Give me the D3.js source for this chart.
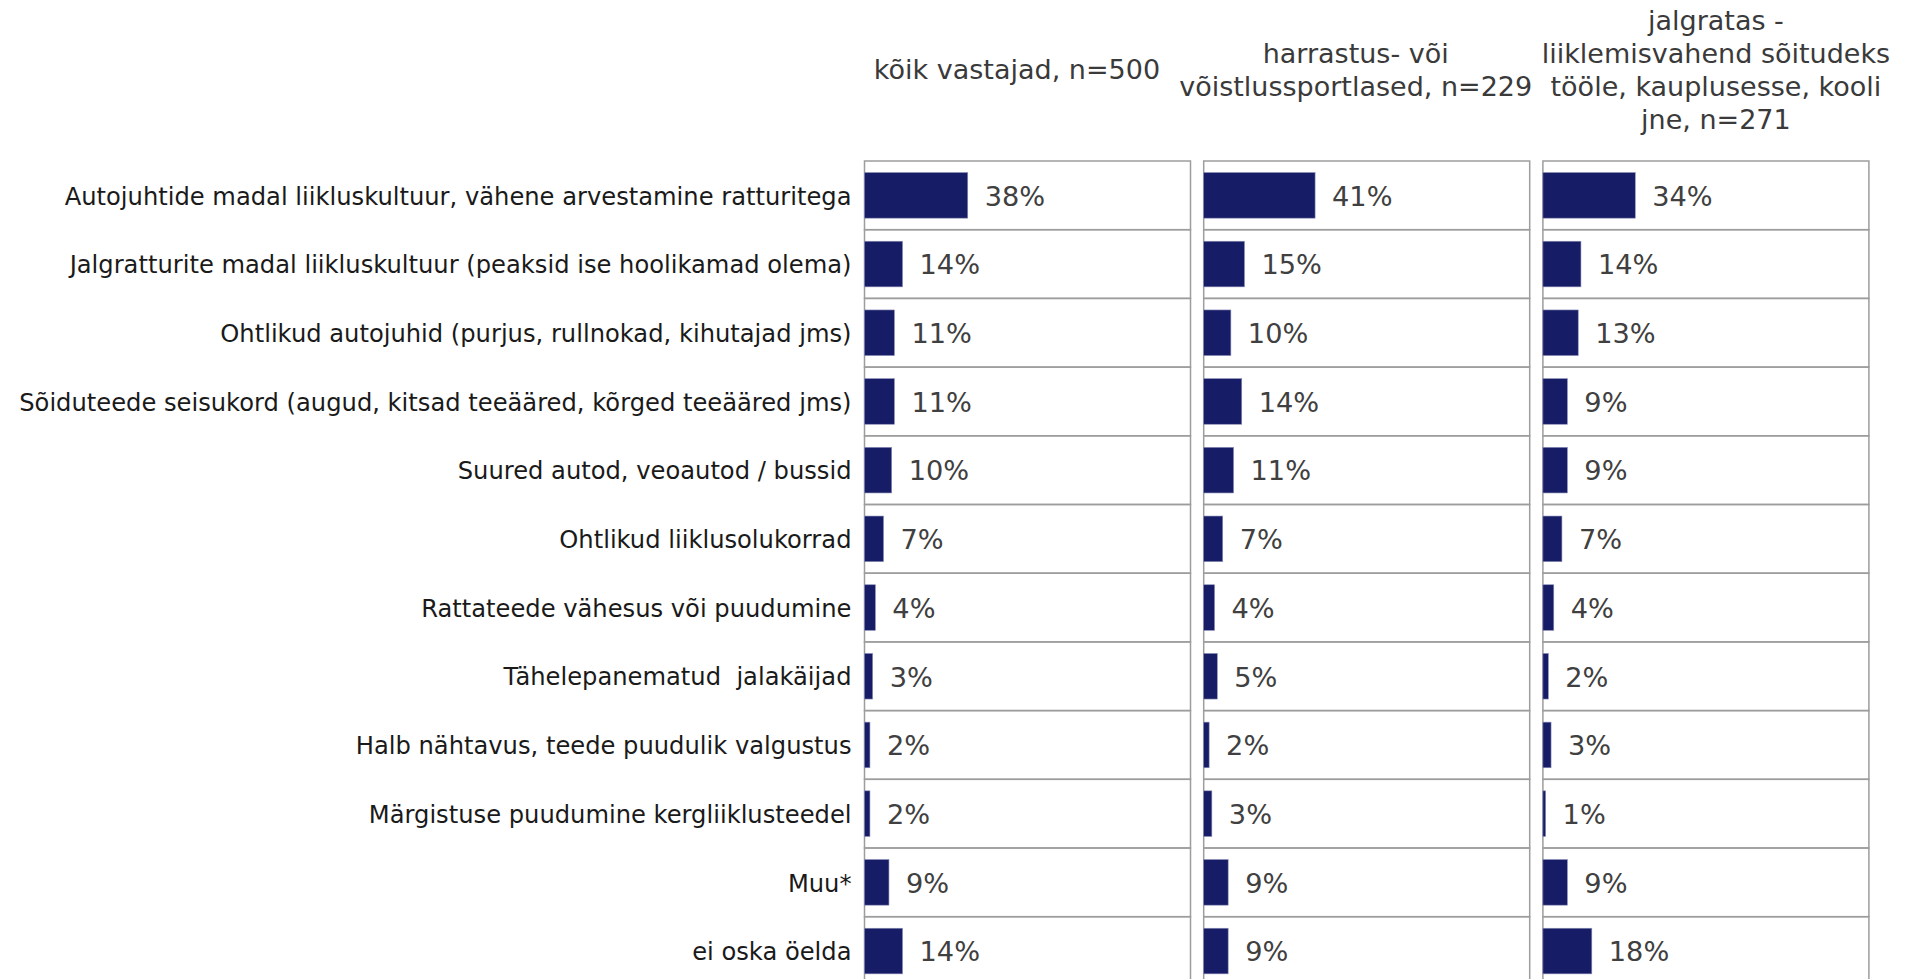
<!DOCTYPE html>
<html>
<head>
<meta charset="utf-8">
<script src="https://cdn.jsdelivr.net/npm/d3@7"></script>
<style>
  html, body { margin: 0; padding: 0; background: #fff; }
  svg { display: block; }
  text { font-family: "DejaVu Sans", Verdana, sans-serif; }
</style>
</head>
<body>
<svg id="chart" width="1908" height="979"></svg>
<script>
// Survey: main traffic hazards named by cyclists, share of respondents per group
const categories = [
  "Autojuhtide madal liikluskultuur, vähene arvestamine ratturitega",
  "Jalgratturite madal liikluskultuur (peaksid ise hoolikamad olema)",
  "Ohtlikud autojuhid (purjus, rullnokad, kihutajad jms)",
  "Sõiduteede seisukord (augud, kitsad teeääred, kõrged teeääred jms)",
  "Suured autod, veoautod / bussid",
  "Ohtlikud liiklusolukorrad",
  "Rattateede vähesus või puudumine",
  "Tähelepanematud  jalakäijad",
  "Halb nähtavus, teede puudulik valgustus",
  "Märgistuse puudumine kergliiklusteedel",
  "Muu*",
  "ei oska öelda"
];

const groups = [
  ["kõik vastajad, n=500"],
  ["harrastus- või", "võistlussportlased, n=229"],
  ["jalgratas -", "liiklemisvahend sõitudeks", "tööle, kauplusesse, kooli", "jne, n=271"]
];

const allRespondents = [38, 14, 11, 11, 10, 7, 4, 3, 2, 2, 9, 14];
const sportRiders    = [41, 15, 10, 14, 11, 7, 4, 5, 2, 3, 9, 9];
const commuters      = [34, 14, 13, 9, 9, 7, 4, 2, 3, 1, 9, 18];

const seriesValues = [allRespondents, sportRiders, commuters];

// ---- layout ----
const svg = d3.select("#chart");
const gridTop = 161, rowStep = 68.7, barH = 45.6;
const panelW = 326, panelStep = 339.2, firstPanel = 864.5;
const headerShift = [-10.5, -11, 10];

const row = d3.scaleBand()
  .domain(categories)
  .range([gridTop, gridTop + rowStep * categories.length])
  .padding(0);

const nPanels = seriesValues.length;
const panel = d3.scaleBand()
  .domain(d3.range(nPanels))
  .range([firstPanel, firstPanel + panelStep * (nPanels - 1) + panelW])
  .paddingInner((panelStep - panelW) / panelStep)
  .paddingOuter(0);

const x = d3.scaleLinear().domain([0, 120]).range([0, panel.bandwidth()]);

// category labels
svg.append("g")
  .selectAll("text")
  .data(categories)
  .join("text")
  .attr("x", firstPanel - 13)
  .attr("y", d => row(d) + row.bandwidth() / 2)
  .attr("dy", "0.38em")
  .attr("text-anchor", "end")
  .attr("font-size", 24.2)
  .attr("fill", "#1a1a1a")
  .style("white-space", "pre")
  .text(d => d);

// panels
seriesValues.forEach((vals, i) => {
  const left = panel(i);
  const w = panel.bandwidth();
  const g = svg.append("g").attr("transform", `translate(${left},0)`);

  // header
  const lines = groups[i];
  const lh = 32.9, cy = 70;
  g.append("text")
    .attr("text-anchor", "middle")
    .attr("font-size", 27)
    .attr("fill", "#3a3a3a")
    .selectAll("tspan")
    .data(lines)
    .join("tspan")
    .attr("x", w / 2 + headerShift[i])
    .attr("y", (d, k) => cy + (k - (lines.length - 1) / 2) * lh)
    .attr("dy", "0.35em")
    .text(d => d);

  // row frames
  g.selectAll("rect.cell")
    .data(categories)
    .join("rect")
    .attr("class", "cell")
    .attr("x", 0)
    .attr("y", d => row(d))
    .attr("width", w)
    .attr("height", row.bandwidth())
    .attr("fill", "none")
    .attr("stroke", "#9d9d9d")
    .attr("stroke-width", 1.5);

  // bars
  g.selectAll("rect.bar")
    .data(vals)
    .join("rect")
    .attr("class", "bar")
    .attr("x", x(0))
    .attr("y", (d, k) => row(categories[k]) + (row.bandwidth() - barH) / 2)
    .attr("width", d => x(d) - x(0))
    .attr("height", barH)
    .attr("fill", "#161c66")
    .attr("stroke", "#8a8db5")
    .attr("stroke-width", 0.6);

  // value labels
  g.selectAll("text.val")
    .data(vals)
    .join("text")
    .attr("class", "val")
    .attr("x", d => x(d) + 17)
    .attr("y", (d, k) => row(categories[k]) + row.bandwidth() / 2)
    .attr("dy", "0.38em")
    .attr("font-size", 27.2)
    .attr("fill", "#404040")
    .text(d => d + "%");
});
</script>
</body>
</html>
